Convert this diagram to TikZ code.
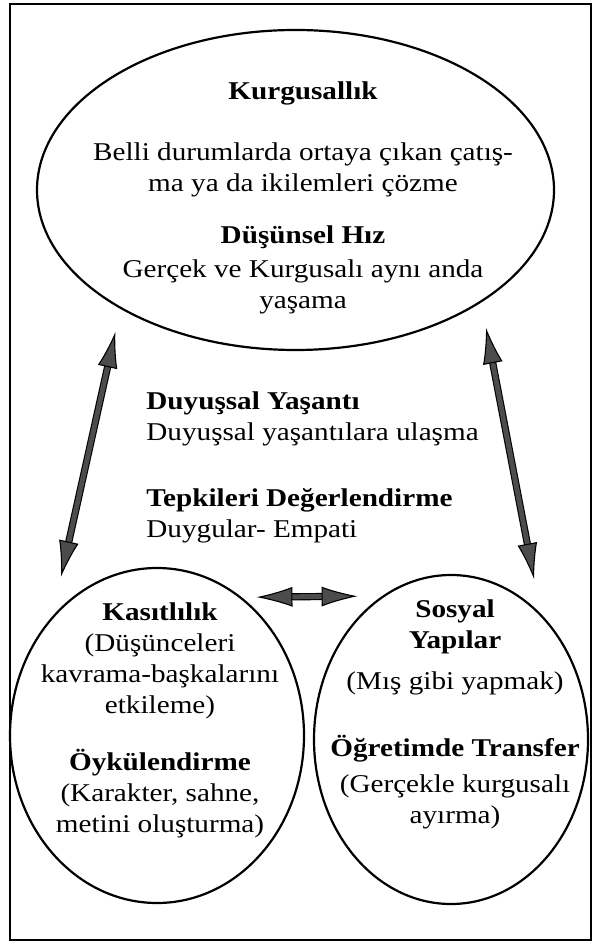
\documentclass[tikz,border=0pt]{standalone}
\usepackage{fontspec}
\setmainfont{Liberation Serif}[FakeStretch=1.14]
\usetikzlibrary{arrows.meta,shapes.geometric}

\tikzset{
  bubble/.style={shape=ellipse, draw=black, line width=1.1pt, inner sep=0pt, outer sep=0pt},
  txt/.style={inner sep=0pt, align=center, font=\fontsize{12.8}{15.5}\selectfont},
  biarrow/.style={draw=black, line width=0.55pt, double=black!70, double distance=2.5pt,
    {Latex[length=18pt,width=10pt,fill=black!70]}-{Latex[length=18pt,width=10pt,fill=black!70]}}
}

\begin{document}
\begin{tikzpicture}[x=0.5pt, y=-0.5pt]

	\useasboundingbox (0,0) rectangle (600,945);
	\draw[line width=1pt] (10,4) rectangle (591,940);
	
	\node[bubble, minimum width=258.5pt, minimum height=160pt] (kurgusal) at (295.5,190) {};
	\node[bubble, minimum width=147pt, minimum height=167.5pt] (kasitlilik) at (157,735.5) {};
	\node[bubble, minimum width=137pt, minimum height=164.5pt] (sosyal) at (451,739.5) {};
	
	\node[txt] (kurgBaslik) at (303,93) {\textbf{Kurgusallık}};
	\node[txt] (catisma) at (303,169.5) {Belli durumlarda ortaya çıkan çatış-\\ma ya da ikilemleri çözme};
	\node[txt] (hizBaslik) at (303,237) {\textbf{Düşünsel Hız}};
	\node[txt] (yasama) at (303,287) {Gerçek ve Kurgusalı aynı anda\\yaşama};
	
	\node[txt, anchor=west, align=left] (duyu) at (146,419) {\textbf{Duyuşsal Yaşantı}\\Duyuşsal yaşantılara ulaşma};
	\node[txt, anchor=west, align=left] (tepki) at (146,516) {\textbf{Tepkileri Değerlendirme}\\Duygular- Empati};
	
	\node[txt] (kasitMetin) at (160,661) {\textbf{Kasıtlılık}\\(Düşünceleri\\kavrama-başkalarını\\etkileme)};
	\node[txt] (oyku) at (160,794) {\textbf{Öykülendirme}\\(Karakter, sahne,\\metini oluşturma)};
	\node[txt] (sosyalMetin) at (455,626.5) {\textbf{Sosyal}\\\textbf{Yapılar}};
	\node[txt] (mis) at (455,683) {(Mış gibi yapmak)};
	\node[txt] (ogret) at (455,749) {\textbf{Öğretimde Transfer}};
	\node[txt] (ayirma) at (455,802) {(Gerçekle kurgusalı\\ayırma)};
	
	\path (kurgusal.214) edge[biarrow, shorten <=12.3pt, shorten >=21.4pt] (kasitlilik.132.6);
	\path (kurgusal.329) edge[biarrow, shorten <=13.4pt, shorten >=18.5pt] (sosyal.54);
	\path (kasitlilik.59.2) edge[biarrow, shorten <=8.2pt, shorten >=13.25pt] (sosyal.115.7);
	
\end{tikzpicture}
\end{document}
